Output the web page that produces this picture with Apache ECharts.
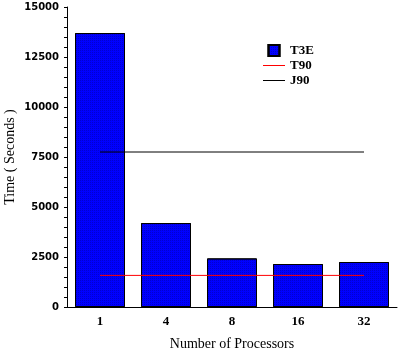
<!DOCTYPE html>
<html>
<head>
<meta charset="utf-8">
<script src="https://cdn.jsdelivr.net/npm/echarts@6/dist/echarts.min.js"></script>
<style>
  html, body { margin: 0; padding: 0; background: #fff; }
  #chart { width: 400px; height: 352px; }
</style>
</head>
<body>
<div id="chart"></div>
<script>
// categories and values
var processors = ['1', '4', '8', '16', '32'];
var t3e = [13700, 4200, 2430, 2150, 2250];
var t90 = [1580, 1580, 1580, 1580, 1580];
var j90 = [7750, 7750, 7750, 7750, 7750];
var yTicks = [0, 2500, 5000, 7500, 10000, 12500, 15000];

var myChart = echarts.init(document.getElementById('chart'));

var lineIcon = 'path://M0,0h22v1h-22z';

myChart.setOption({
  backgroundColor: '#fff',
  animation: false,
  legend: {
    orient: 'vertical',
    left: 258,
    top: 39,
    itemWidth: 22,
    itemHeight: 11,
    itemGap: 2,
    symbolKeepAspect: true,
    textStyle: { fontFamily: 'Liberation Serif', fontWeight: 'bold', fontSize: 13, color: '#000' },
    data: [
      { name: 'T3E', icon: 'path://M0,0h10v10h-10z' },
      { name: 'T90', icon: lineIcon, itemStyle: { color: '#ff0000', borderWidth: 0 } },
      { name: 'J90', icon: lineIcon, itemStyle: { color: '#000', borderWidth: 0 } }
    ]
  },
  grid: { left: 67, top: 7, width: 330, height: 300, outerBoundsMode: 'none' },
  xAxis: {
    type: 'category',
    data: processors,
    name: 'Number of Processors',
    nameLocation: 'middle',
    nameGap: 30,
    nameTextStyle: { fontFamily: 'Liberation Serif', fontSize: 14, color: '#000' },
    axisLine: { lineStyle: { color: '#000', width: 1 } },
    axisTick: { show: false },
    axisLabel: { margin: 8, fontFamily: 'Liberation Serif', fontWeight: 'bold', fontSize: 13, color: '#000' }
  },
  yAxis: {
    type: 'value',
    min: yTicks[0],
    max: yTicks[yTicks.length - 1],
    interval: 2500,
    name: 'Time ( Seconds )',
    nameLocation: 'middle',
    nameGap: 50,
    nameMoveOverlap: false,
    nameTextStyle: { fontFamily: 'Liberation Serif', fontSize: 14, color: '#000' },
    axisLine: { show: true, lineStyle: { color: '#000', width: 1 } },
    axisTick: { show: true, length: 3, lineStyle: { color: '#000' } },
    minorTick: { show: true, splitNumber: 5, length: 3, lineStyle: { color: '#000' } },
    splitLine: { show: false },
    axisLabel: {
      margin: 8, fontFamily: 'DejaVu Sans', fontWeight: 'bold', fontSize: 10, color: '#000',
      formatter: function (v) { return String(v); }
    }
  },
  series: [
    {
      name: 'T3E',
      type: 'bar',
      barWidth: 50,
      data: t3e,
      itemStyle: {
        color: '#0000ff',
        borderColor: '#000',
        borderWidth: 1,
        decal: {
          symbol: 'rect',
          symbolSize: 1,
          dashArrayX: [1, 1],
          dashArrayY: [1, 1],
          color: 'rgba(0,0,90,0.28)'
        }
      }
    },
    {
      name: 'T90',
      type: 'line',
      data: t90,
      symbol: 'none',
      lineStyle: { color: '#ff0000', width: 1 },
      itemStyle: { color: '#ff0000' },
      z: 5
    },
    {
      name: 'J90',
      type: 'line',
      data: j90,
      symbol: 'none',
      lineStyle: { color: '#000', width: 1 },
      itemStyle: { color: '#000' },
      z: 5
    }
  ]
});
</script>
</body>
</html>
